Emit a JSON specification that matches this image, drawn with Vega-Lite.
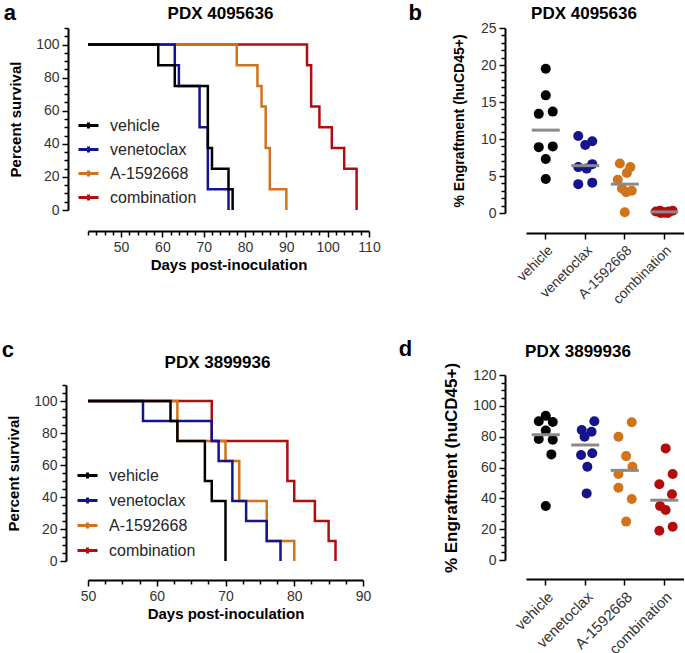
{
  "$schema": "https://vega.github.io/schema/vega-lite/v6.json",
  "padding": {"left": 1, "top": 2, "right": 0, "bottom": 0},
  "config": {
    "font": "Liberation Sans",
    "view": {"stroke": null},
    "axis": {"grid": false, "domainColor": "#000", "domainWidth": 2, "tickColor": "#000", "tickWidth": 1.5, "labelColor": "#333", "labelFontSize": 14, "titleFontWeight": "bold", "titleColor": "#000", "labelFlush": false, "labelOverlap": false, "labelPadding": 3},
    "title": {"fontWeight": "bold", "color": "#000"}
  },
  "datasets": {
    "surv_a": [
      {"group": "combination", "day": 42, "pct": 100},
      {"group": "combination", "day": 95, "pct": 87.5},
      {"group": "combination", "day": 96, "pct": 62.5},
      {"group": "combination", "day": 98, "pct": 50},
      {"group": "combination", "day": 101, "pct": 37.5},
      {"group": "combination", "day": 104, "pct": 25},
      {"group": "combination", "day": 107, "pct": 0},
      {"group": "A-1592668", "day": 42, "pct": 100},
      {"group": "A-1592668", "day": 78, "pct": 87.5},
      {"group": "A-1592668", "day": 83, "pct": 75},
      {"group": "A-1592668", "day": 84, "pct": 62.5},
      {"group": "A-1592668", "day": 85, "pct": 37.5},
      {"group": "A-1592668", "day": 86, "pct": 12.5},
      {"group": "A-1592668", "day": 90, "pct": 0},
      {"group": "venetoclax", "day": 42, "pct": 100},
      {"group": "venetoclax", "day": 63, "pct": 87.5},
      {"group": "venetoclax", "day": 64, "pct": 75},
      {"group": "venetoclax", "day": 69, "pct": 50},
      {"group": "venetoclax", "day": 71, "pct": 12.5},
      {"group": "venetoclax", "day": 76, "pct": 0},
      {"group": "vehicle", "day": 42, "pct": 100},
      {"group": "vehicle", "day": 59, "pct": 87.5},
      {"group": "vehicle", "day": 63, "pct": 75},
      {"group": "vehicle", "day": 71, "pct": 37.5},
      {"group": "vehicle", "day": 72, "pct": 25},
      {"group": "vehicle", "day": 76, "pct": 12.5},
      {"group": "vehicle", "day": 77, "pct": 0}
    ],
    "surv_c": [
      {"group": "combination", "day": 50, "pct": 100},
      {"group": "combination", "day": 68, "pct": 75},
      {"group": "combination", "day": 79, "pct": 50},
      {"group": "combination", "day": 80, "pct": 37.5},
      {"group": "combination", "day": 83, "pct": 25},
      {"group": "combination", "day": 85, "pct": 12.5},
      {"group": "combination", "day": 86, "pct": 0},
      {"group": "A-1592668", "day": 50, "pct": 100},
      {"group": "A-1592668", "day": 63, "pct": 75},
      {"group": "A-1592668", "day": 70, "pct": 62.5},
      {"group": "A-1592668", "day": 72, "pct": 37.5},
      {"group": "A-1592668", "day": 76, "pct": 12.5},
      {"group": "A-1592668", "day": 80, "pct": 0},
      {"group": "venetoclax", "day": 50, "pct": 100},
      {"group": "venetoclax", "day": 58, "pct": 87.5},
      {"group": "venetoclax", "day": 68, "pct": 75},
      {"group": "venetoclax", "day": 69, "pct": 62.5},
      {"group": "venetoclax", "day": 71, "pct": 37.5},
      {"group": "venetoclax", "day": 73, "pct": 25},
      {"group": "venetoclax", "day": 76, "pct": 12.5},
      {"group": "venetoclax", "day": 78, "pct": 0},
      {"group": "vehicle", "day": 50, "pct": 100},
      {"group": "vehicle", "day": 62, "pct": 87.5},
      {"group": "vehicle", "day": 63, "pct": 75},
      {"group": "vehicle", "day": 67, "pct": 50},
      {"group": "vehicle", "day": 68, "pct": 37.5},
      {"group": "vehicle", "day": 70, "pct": 0}
    ],
    "eng_b": [
      {"group": "vehicle", "value": 19.5, "lane": 0},
      {"group": "vehicle", "value": 15.9, "lane": 0},
      {"group": "vehicle", "value": 13.4, "lane": -1},
      {"group": "vehicle", "value": 13.7, "lane": 1},
      {"group": "vehicle", "value": 8.9, "lane": -1},
      {"group": "vehicle", "value": 9.0, "lane": 1},
      {"group": "vehicle", "value": 7.3, "lane": 0},
      {"group": "vehicle", "value": 4.6, "lane": 0},
      {"group": "venetoclax", "value": 10.4, "lane": -1},
      {"group": "venetoclax", "value": 9.2, "lane": 0},
      {"group": "venetoclax", "value": 9.7, "lane": 1},
      {"group": "venetoclax", "value": 6.6, "lane": 1},
      {"group": "venetoclax", "value": 6.2, "lane": -1},
      {"group": "venetoclax", "value": 6.0, "lane": 0.2},
      {"group": "venetoclax", "value": 3.9, "lane": -1},
      {"group": "venetoclax", "value": 4.1, "lane": 1},
      {"group": "A-1592668", "value": 6.7, "lane": -0.7},
      {"group": "A-1592668", "value": 6.2, "lane": 0.8},
      {"group": "A-1592668", "value": 5.4, "lane": 0.3},
      {"group": "A-1592668", "value": 4.5, "lane": -1},
      {"group": "A-1592668", "value": 3.3, "lane": -0.4},
      {"group": "A-1592668", "value": 3.0, "lane": 1},
      {"group": "A-1592668", "value": 2.8, "lane": 0.2},
      {"group": "A-1592668", "value": 0.1, "lane": 0},
      {"group": "combination", "value": 0.2, "lane": -1.2},
      {"group": "combination", "value": 0.3, "lane": -0.6},
      {"group": "combination", "value": 0.1, "lane": 0},
      {"group": "combination", "value": 0.2, "lane": 0.6},
      {"group": "combination", "value": 0.3, "lane": 1.2},
      {"group": "combination", "value": 0.0, "lane": -0.5},
      {"group": "combination", "value": 0.0, "lane": 0.5},
      {"group": "combination", "value": 0.05, "lane": 0}
    ],
    "eng_d": [
      {"group": "vehicle", "value": 93.5, "lane": 0},
      {"group": "vehicle", "value": 90, "lane": -1},
      {"group": "vehicle", "value": 89.5, "lane": 1},
      {"group": "vehicle", "value": 84, "lane": 0},
      {"group": "vehicle", "value": 78.5, "lane": -1},
      {"group": "vehicle", "value": 78, "lane": 1},
      {"group": "vehicle", "value": 68.5, "lane": 0.8},
      {"group": "vehicle", "value": 35, "lane": 0},
      {"group": "venetoclax", "value": 90, "lane": 1.3},
      {"group": "venetoclax", "value": 84.3, "lane": -0.5},
      {"group": "venetoclax", "value": 83.2, "lane": 0.9},
      {"group": "venetoclax", "value": 80, "lane": -0.1},
      {"group": "venetoclax", "value": 69.2, "lane": 1},
      {"group": "venetoclax", "value": 68.1, "lane": -0.6},
      {"group": "venetoclax", "value": 60.5, "lane": 0.3},
      {"group": "venetoclax", "value": 43.2, "lane": 0.2},
      {"group": "A-1592668", "value": 89.3, "lane": 1},
      {"group": "A-1592668", "value": 80, "lane": -0.9},
      {"group": "A-1592668", "value": 67.4, "lane": 0.2},
      {"group": "A-1592668", "value": 60.5, "lane": 1.1},
      {"group": "A-1592668", "value": 55.8, "lane": -0.9},
      {"group": "A-1592668", "value": 46.9, "lane": -0.9},
      {"group": "A-1592668", "value": 39.6, "lane": 1},
      {"group": "A-1592668", "value": 24.9, "lane": 0.2},
      {"group": "combination", "value": 72.4, "lane": 0.2},
      {"group": "combination", "value": 55.8, "lane": 1.2},
      {"group": "combination", "value": 49.1, "lane": -0.7},
      {"group": "combination", "value": 42.6, "lane": 1.1},
      {"group": "combination", "value": 35, "lane": -0.6},
      {"group": "combination", "value": 32.4, "lane": 0.2},
      {"group": "combination", "value": 19, "lane": -0.7},
      {"group": "combination", "value": 21.6, "lane": 1.2}
    ]
  },
  "resolve": {"scale": {"color": "independent", "x": "independent", "y": "independent"}, "legend": {"color": "independent"}},
  "spacing": 17,
  "hconcat": [
    {
      "spacing": 67,
      "resolve": {"scale": {"color": "independent", "x": "independent", "y": "independent"}, "legend": {"color": "independent"}},
      "vconcat": [
        {
          "title": {"text": "a", "anchor": "start", "fontSize": 22, "offset": -20, "dx": -5},
          "vconcat": [
            {
              "width": 281,
              "height": 182,
              "title": {"text": "PDX 4095636", "fontSize": 17, "dx": -8, "offset": -2},
              "data": {"name": "surv_a"},
              "mark": {"type": "line", "interpolate": "step-after", "strokeWidth": 2.5},
              "encoding": {
                "x": {"field": "day", "type": "quantitative", "scale": {"domain": [42, 110], "nice": false, "zero": false},
                  "axis": {"title": "Days post-inoculation", "titleFontSize": 15, "titlePadding": 3, "offset": 21,
                    "values": [42,44,46,48,50,52,54,56,58,60,62,64,66,68,70,72,74,76,78,80,82,84,86,88,90,92,94,96,98,100,102,104,106,108,110],
                    "labelExpr": "datum.value % 10 === 0 ? datum.label : ''",
                    "tickSize": {"condition": {"test": "datum.value % 10 === 0", "value": 6}, "value": 4}}},
                "y": {"field": "pct", "type": "quantitative", "scale": {"domain": [0, 110], "nice": false},
                  "axis": {"title": "Percent survival", "titleFontSize": 15, "titlePadding": 12, "offset": 20,
                    "values": [0,5,10,15,20,25,30,35,40,45,50,55,60,65,70,75,80,85,90,95,100,105,110],
                    "labelExpr": "datum.value % 20 === 0 ? datum.label : ''",
                    "tickSize": {"condition": {"test": "datum.value % 20 === 0", "value": 6}, "value": 4}}},
                "color": {"field": "group", "type": "nominal",
                  "scale": {"domain": ["vehicle", "venetoclax", "A-1592668", "combination"], "range": ["#000000", "#14148c", "#d0731a", "#b00d0d"]},
                  "legend": {"title": null, "orient": "none", "legendX": -11, "legendY": 86, "padding": 0, "labelFontSize": 16, "labelColor": "#262626", "labelOffset": 10, "rowPadding": 3, "symbolType": "M-1,0H1M0,-0.3V0.3", "symbolSize": 400, "symbolStrokeWidth": 3}}
              }
            }
          ]
        },
        {
          "title": {"text": "c", "anchor": "start", "fontSize": 22, "offset": -8, "dx": -5},
          "vconcat": [
            {
              "width": 275,
              "height": 176,
              "title": {"text": "PDX 3899936", "fontSize": 17, "dx": -8, "offset": 6},
              "data": {"name": "surv_c"},
              "mark": {"type": "line", "interpolate": "step-after", "strokeWidth": 2.5},
              "encoding": {
                "x": {"field": "day", "type": "quantitative", "scale": {"domain": [50, 90], "nice": false, "zero": false},
                  "axis": {"title": "Days post-inoculation", "titleFontSize": 15, "titlePadding": 3, "offset": 19,
                    "values": [50,52.5,55,57.5,60,62.5,65,67.5,70,72.5,75,77.5,80,82.5,85,87.5,90],
                    "labelExpr": "datum.value % 10 === 0 ? datum.label : ''",
                    "tickSize": {"condition": {"test": "datum.value % 10 === 0", "value": 6}, "value": 4}}},
                "y": {"field": "pct", "type": "quantitative", "scale": {"domain": [0, 110], "nice": false},
                  "axis": {"title": "Percent survival", "titleFontSize": 15, "titlePadding": 12, "offset": 22,
                    "values": [0,5,10,15,20,25,30,35,40,45,50,55,60,65,70,75,80,85,90,95,100,105,110],
                    "labelExpr": "datum.value % 20 === 0 ? datum.label : ''",
                    "tickSize": {"condition": {"test": "datum.value % 20 === 0", "value": 6}, "value": 4}}},
                "color": {"field": "group", "type": "nominal",
                  "scale": {"domain": ["vehicle", "venetoclax", "A-1592668", "combination"], "range": ["#000000", "#14148c", "#d0731a", "#b00d0d"]},
                  "legend": {"title": null, "orient": "none", "legendX": -12, "legendY": 79, "padding": 0, "labelFontSize": 16, "labelColor": "#262626", "labelOffset": 10, "rowPadding": 4, "symbolType": "M-1,0H1M0,-0.3V0.3", "symbolSize": 400, "symbolStrokeWidth": 3}}
              }
            }
          ]
        }
      ]
    },
    {
      "spacing": 31,
      "resolve": {"scale": {"color": "independent", "x": "independent", "y": "independent"}, "legend": {"color": "independent"}},
      "vconcat": [
        {
          "title": {"text": "b", "anchor": "start", "fontSize": 22, "offset": -20, "dx": -44},
          "vconcat": [
            {
              "width": 158,
              "height": 185,
              "title": {"text": "PDX 4095636", "fontSize": 17, "dx": -21, "offset": -2},
              "data": {"name": "eng_b"},
              "encoding": {
                "x": {"field": "group", "type": "nominal", "sort": ["vehicle", "venetoclax", "A-1592668", "combination"],
                  "scale": {"type": "band", "paddingInner": 0, "paddingOuter": 0},
                  "axis": {"title": null, "labelAngle": -45, "offset": 20, "tickSize": 6, "bandPosition": 0.5, "labelFontSize": 14, "labelPadding": 4}},
                "y": {"field": "value", "type": "quantitative", "scale": {"domain": [0, 25], "nice": false},
                  "axis": {"title": "% Engraftment (huCD45+)", "titleFontSize": 14, "titlePadding": 14, "offset": 21,
                    "values": [0,1,2,3,4,5,6,7,8,9,10,11,12,13,14,15,16,17,18,19,20,21,22,23,24,25],
                    "labelExpr": "datum.value % 5 === 0 ? datum.label : ''",
                    "tickSize": {"condition": {"test": "datum.value % 5 === 0", "value": 6}, "value": 4}}}
              },
              "layer": [
                {
                  "mark": {"type": "circle", "size": 100, "opacity": 1},
                  "encoding": {
                    "color": {"field": "group", "type": "nominal",
                      "scale": {"domain": ["vehicle", "venetoclax", "A-1592668", "combination"], "range": ["#000000", "#14148c", "#d0731a", "#b00d0d"]},
                      "legend": null},
                    "xOffset": {"field": "lane", "type": "quantitative", "scale": {"domain": [-2.82, 2.82], "nice": false, "zero": false}}
                  }
                },
                {
                  "mark": {"type": "tick", "color": "#8a8a8a", "thickness": 3, "size": 28},
                  "encoding": {
                    "y": {"aggregate": "median", "field": "value", "type": "quantitative", "title": "% Engraftment (huCD45+)"}
                  }
                }
              ]
            }
          ]
        },
        {
          "title": {"text": "d", "anchor": "start", "fontSize": 22, "offset": -18, "dx": -44},
          "vconcat": [
            {
              "width": 158,
              "height": 185,
              "title": {"text": "PDX 3899936", "fontSize": 17, "dx": -27, "offset": 1},
              "data": {"name": "eng_d"},
              "encoding": {
                "x": {"field": "group", "type": "nominal", "sort": ["vehicle", "venetoclax", "A-1592668", "combination"],
                  "scale": {"type": "band", "paddingInner": 0, "paddingOuter": 0},
                  "axis": {"title": null, "labelAngle": -45, "offset": 19, "tickSize": 6, "bandPosition": 0.5, "labelFontSize": 15, "labelPadding": 4}},
                "y": {"field": "value", "type": "quantitative", "scale": {"domain": [0, 120], "nice": false},
                  "axis": {"title": "% Engraftment (huCD45+)", "titleFontSize": 17, "titlePadding": 12, "offset": 21,
                    "values": [0,5,10,15,20,25,30,35,40,45,50,55,60,65,70,75,80,85,90,95,100,105,110,115,120],
                    "labelExpr": "datum.value % 20 === 0 ? datum.label : ''",
                    "tickSize": {"condition": {"test": "datum.value % 20 === 0", "value": 6}, "value": 4}}}
              },
              "layer": [
                {
                  "mark": {"type": "circle", "size": 100, "opacity": 1},
                  "encoding": {
                    "color": {"field": "group", "type": "nominal",
                      "scale": {"domain": ["vehicle", "venetoclax", "A-1592668", "combination"], "range": ["#000000", "#14148c", "#d0731a", "#b00d0d"]},
                      "legend": null},
                    "xOffset": {"field": "lane", "type": "quantitative", "scale": {"domain": [-2.82, 2.82], "nice": false, "zero": false}}
                  }
                },
                {
                  "mark": {"type": "tick", "color": "#8a8a8a", "thickness": 3, "size": 28},
                  "encoding": {
                    "y": {"aggregate": "median", "field": "value", "type": "quantitative", "title": "% Engraftment (huCD45+)"}
                  }
                }
              ]
            }
          ]
        }
      ]
    }
  ]
}
